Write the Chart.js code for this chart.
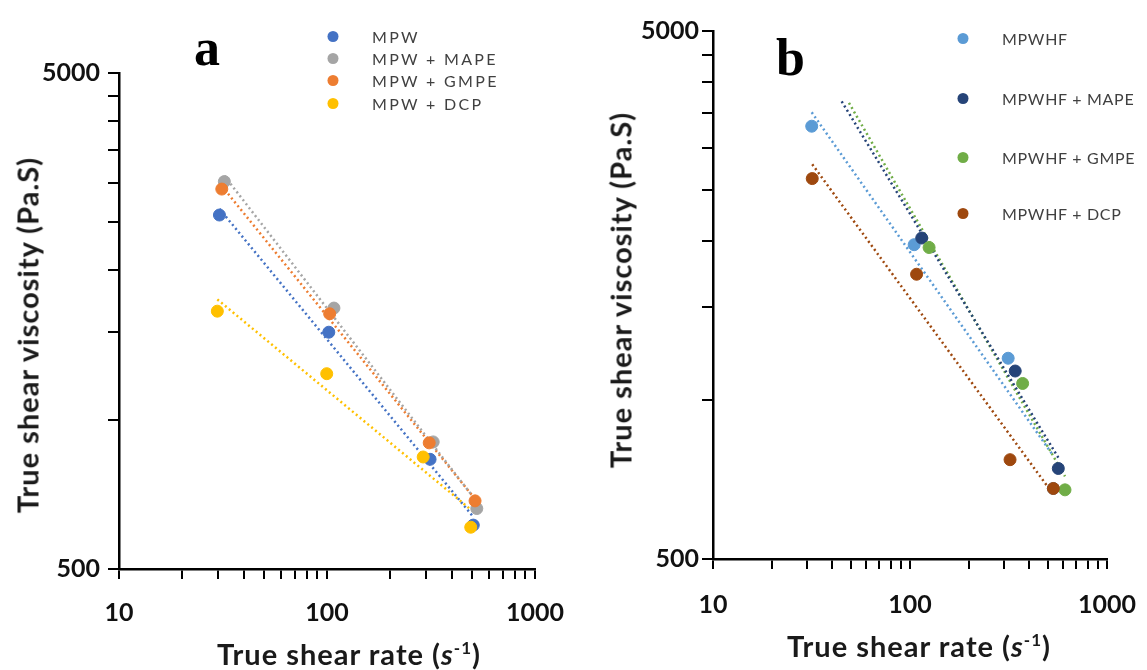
<!DOCTYPE html>
<html lang="en">
<head>
  <meta charset="UTF-8" />
  <title>True shear viscosity vs true shear rate</title>
  <script src="https://cdn.jsdelivr.net/npm/chart.js"></script>
  <style>
    body {
      margin: 0;
      background: #ffffff;
      font-family: 'Lato', 'Open Sans', sans-serif;
    }

    #page {
      position: relative;
      width: 1147px;
      height: 670px;
      overflow: hidden;
    }

    .panel {
      position: absolute;
      top: 0;
    }

    .tag {
      position: absolute;
      font-family: 'Liberation Serif', 'Times New Roman', serif;
      font-weight: bold;
      font-size: 52px;
      line-height: 1;
      color: #000;
    }

    .ytitle, .xtitle {
      position: absolute;
      font-weight: bold;
      font-size: 29px;
      letter-spacing: 1px;
      color: #1a1a1a;
      white-space: nowrap;
      transform: translate(-50%, -50%);
    }

    .ytitle {
      transform: translate(-50%, -50%) rotate(-90deg);
    }

    .xtitle sup {
      font-size: 17px;
      vertical-align: 11px;
      line-height: 0;
    }

    .legend {
      position: absolute;
      font-size: 16px;
      color: #404040;
    }

    .legend .item {
      position: absolute;
      white-space: nowrap;
      transform: translateY(-50%);
    }

    .legend .dot {
      position: absolute;
      width: 11px;
      height: 11px;
      border-radius: 50%;
      top: 50%;
      transform: translate(-50%, -50%);
    }
  </style>
</head>
<body>

<div id="page">
  <div class="panel" style="left:0;"><canvas id="chartA" width="570" height="670"></canvas></div>
  <div class="panel" style="left:580px;"><canvas id="chartB" width="567" height="670"></canvas></div>

  <div class="tag" style="left:194px; top:22px;">a</div>
  <div class="tag" style="left:776px; top:32px;">b</div>

  <div class="ytitle" style="left:27px; top:335px;">True shear viscosity (Pa.S)</div>
  <div class="ytitle" style="left:620px; top:290px;">True shear viscosity (Pa.S)</div>
  <div class="xtitle" style="left:349px; top:653px;">True shear rate (<i>s</i><sup>-1</sup>)</div>
  <div class="xtitle" style="left:919px; top:645px;">True shear rate (<i>s</i><sup>-1</sup>)</div>

  <div class="legend" id="legendA" style="letter-spacing:2.3px;"></div>
  <div class="legend" id="legendB" style="letter-spacing:0.7px;"></div>
</div>

<script>
  // ---- data (shear rate in 1/s, viscosity in Pa.s) ----

  // panel a
  const namesA  = ['MPW', 'MPW + MAPE', 'MPW + GMPE', 'MPW + DCP'];
  const colorsA = ['#4472C4', '#A5A5A5', '#ED7D31', '#FFC000'];

  const rateMPW       = [30.4, 102, 313, 505];
  const viscMPW       = [2586, 1501, 832, 613];
  const rateMPW_MAPE  = [32.1, 108, 324, 525];
  const viscMPW_MAPE  = [3020, 1679, 902, 662];
  const rateMPW_GMPE  = [31.2, 103, 310, 515];
  const viscMPW_GMPE  = [2917, 1635, 898, 686];
  const rateMPW_DCP   = [29.7, 99.7, 290, 491];
  const viscMPW_DCP   = [1655, 1238, 841, 607];

  // panel b
  const namesB  = ['MPWHF', 'MPWHF + MAPE', 'MPWHF + GMPE', 'MPWHF + DCP'];
  const colorsB = ['#5B9BD5', '#264478', '#70AD47', '#9E480E'];

  const rateMPWHF       = [31.7, 105, 315, 534];
  const viscMPWHF       = [3301, 1969, 1200, 680];
  const rateMPWHF_MAPE  = [114.7, 342, 566];
  const viscMPWHF_MAPE  = [2027, 1135, 742];
  const rateMPWHF_GMPE  = [125, 373, 612];
  const viscMPWHF_GMPE  = [1945, 1075, 676];
  const rateMPWHF_DCP   = [31.9, 108, 322, 534];
  const viscMPWHF_DCP   = [2627, 1731, 771, 680];

  // power trendlines start here when they were extended backwards (null = first point)
  const trendFromA = [null, null, null, null];
  const trendFromB = [null, 45, 49, null];

  // axes
  const yTicks  = [500, 1000, 1500, 2000, 2500, 3000, 3500, 4000, 4500, 5000];
  const yLabels = [500, 5000];
  const xTicks  = [10, 20, 30, 40, 50, 60, 70, 80, 90, 100, 200, 300, 400, 500, 600, 700, 800, 900, 1000];
  const xLabels = [10, 100, 1000];

  // least squares in log-log space, like a spreadsheet power trendline
  function powerFit(xs, ys) {
    const lx = xs.map(Math.log10), ly = ys.map(Math.log10);
    const n = xs.length;
    const mx = lx.reduce((a, b) => a + b, 0) / n;
    const my = ly.reduce((a, b) => a + b, 0) / n;
    let sxy = 0, sxx = 0;
    for (let i = 0; i < n; i++) {
      sxy += (lx[i] - mx) * (ly[i] - my);
      sxx += (lx[i] - mx) * (lx[i] - mx);
    }
    const slope = sxy / sxx;
    const icpt = my - slope * mx;
    return x => Math.pow(10, icpt + slope * Math.log10(x));
  }

  function buildDatasets(rates, viscs, colors, trendFrom) {
    const sets = [];
    rates.forEach((xs, i) => {
      const f = powerFit(xs, viscs[i]);
      const x0 = trendFrom[i] !== null ? trendFrom[i] : Math.min(...xs);
      const x1 = Math.max(...xs);
      sets.push({
        type: 'line',
        data: [{ x: x0, y: f(x0) }, { x: x1, y: f(x1) }],
        borderColor: colors[i],
        borderWidth: 2.5,
        borderDash: [2, 3],
        pointRadius: 0,
        fill: false,
        order: 20 + i
      });
      sets.push({
        type: 'scatter',
        data: xs.map((x, k) => ({ x: x, y: viscs[i][k] })),
        backgroundColor: colors[i],
        borderColor: colors[i],
        pointRadius: 6,
        pointHoverRadius: 6,
        order: 10 - i   // later series drawn on top
      });
    });
    return sets;
  }

  function makeChart(id, datasets, box) {
    const axisFont = { family: 'Lato', size: 25, weight: 'bold' };
    new Chart(document.getElementById(id), {
      type: 'scatter',
      data: { datasets: datasets },
      options: {
        responsive: false,
        animation: false,
        layout: { padding: { top: box.top, right: box.right, left: 0, bottom: 0 } },
        plugins: { legend: { display: false }, tooltip: { enabled: false } },
        scales: {
          x: {
            type: 'logarithmic',
            min: 10,
            max: 1000,
            afterBuildTicks: s => { s.ticks = xTicks.map(v => ({ value: v })); },
            afterFit: s => {
              s.height = box.xHeight;
              s.paddingLeft = 0; s.paddingRight = 0;
            },
            ticks: {
              autoSkip: false,
              maxRotation: 0,
              padding: box.xPad,
              color: '#111',
              font: axisFont,
              callback: v => xLabels.includes(v) ? String(v) : ''
            },
            grid: { drawOnChartArea: false, drawTicks: true, tickLength: 10, color: '#000', lineWidth: 2 },
            border: { display: true, color: '#000', width: 2.5 }
          },
          y: {
            type: 'logarithmic',
            min: 500,
            max: 5000,
            afterBuildTicks: s => { s.ticks = yTicks.map(v => ({ value: v })); },
            afterFit: s => {
              s.width = box.yWidth;
              s.paddingTop = 0; s.paddingBottom = 0;
            },
            ticks: {
              autoSkip: false,
              padding: box.yPad,
              color: '#111',
              font: axisFont,
              callback: v => yLabels.includes(v) ? String(v) : ''
            },
            grid: { drawOnChartArea: false, drawTicks: true, tickLength: 11, color: '#000', lineWidth: 2 },
            border: { display: true, color: '#000', width: 2.5 }
          }
        }
      }
    });
  }

  function makeLegend(id, names, colors, left, textLeft, rows) {
    const el = document.getElementById(id);
    names.forEach((name, i) => {
      const item = document.createElement('div');
      item.className = 'item';
      item.style.left = textLeft + 'px';
      item.style.top = rows[i] + 'px';
      item.textContent = name;
      const dot = document.createElement('span');
      dot.className = 'dot';
      dot.style.background = colors[i];
      dot.style.left = (left - textLeft) + 'px';
      item.appendChild(dot);
      el.appendChild(item);
    });
  }

  const datasetsA = buildDatasets(
    [rateMPW, rateMPW_MAPE, rateMPW_GMPE, rateMPW_DCP],
    [viscMPW, viscMPW_MAPE, viscMPW_GMPE, viscMPW_DCP],
    colorsA, trendFromA);

  const datasetsB = buildDatasets(
    [rateMPWHF, rateMPWHF_MAPE, rateMPWHF_GMPE, rateMPWHF_DCP],
    [viscMPWHF, viscMPWHF_MAPE, viscMPWHF_GMPE, viscMPWHF_DCP],
    colorsB, trendFromB);

  // plot box: panel a spans x 119..535, y 73..569 ; panel b spans x 713..1107, y 31..559
  makeChart('chartA', datasetsA, { top: 73, right: 35, yWidth: 119, xHeight: 101, xPad: 19, yPad: 8 });
  makeChart('chartB', datasetsB, { top: 31, right: 40, yWidth: 133, xHeight: 111, xPad: 21, yPad: 3 });

  makeLegend('legendA', namesA, colorsA, 333, 372, [36, 58, 80, 103]);
  makeLegend('legendB', namesB, colorsB, 963, 1002, [38, 98, 157, 213]);
</script>

</body>
</html>
